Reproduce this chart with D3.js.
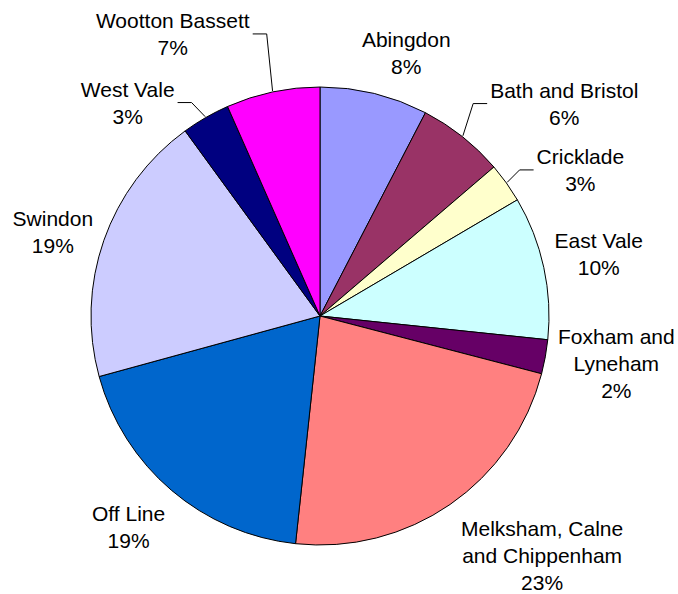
<!DOCTYPE html>
<html>
<head>
<meta charset="utf-8">
<script src="https://cdn.jsdelivr.net/npm/d3@7"></script>
<style>
  body { margin: 0; background: #fff; }
  text { font-family: "Liberation Sans", Arial, sans-serif; font-size: 21px; fill: #000; }
</style>
</head>
<body>
<div id="chart"></div>
<script>
// data (share of total, in %)
const areas = ["Abingdon", "Bath and Bristol", "Cricklade", "East Vale", "Foxham and Lyneham",
  "Melksham, Calne and Chippenham", "Off Line", "Swindon", "West Vale", "Wootton Bassett"];
const shares = [7.6, 6.1, 2.8, 10.1, 2.4, 22.6, 19.0, 19.2, 3.4, 6.6];
const colours = ["#9999ff", "#993366", "#ffffcc", "#ccffff", "#660066",
  "#ff8080", "#0066cc", "#ccccff", "#000080", "#ff00ff"];
// how the category name wraps in the label
const labelLines = [["Abingdon"], ["Bath and Bristol"], ["Cricklade"], ["East Vale"],
  ["Foxham and", "Lyneham"], ["Melksham, Calne", "and Chippenham"], ["Off Line"],
  ["Swindon"], ["West Vale"], ["Wootton Bassett"]];

// label placement: offset from the slice's mid point on the rim, and leader flag
const labelNudge = [[32, -47], [102, -39], [74, -19], [55, -19], [71, -13],
  [92, 32], [-43, 31], [-51, -14], [-78, -21], [-100, -64]];
const hasLeader = [false, true, true, false, false, false, false, false, true, true];

const width = 678;
const height = 594;
const cx = 320, cy = 316, radius = 229;
const lineGap = 27;

const svg = d3.select("#chart")
  .append("svg")
  .attr("width", width)
  .attr("height", height);

const g = svg.append("g").attr("transform", `translate(${cx},${cy})`);

const total = d3.sum(shares);
const pie = d3.pie().sort(null).value((d) => d.value);
const arcs = pie(areas.map((name, i) => ({ name, value: shares[i], i })));

const arc = d3.arc().innerRadius(0).outerRadius(radius);

g.selectAll("path.slice")
  .data(arcs)
  .join("path")
  .attr("class", "slice")
  .attr("d", arc)
  .attr("fill", (d) => colours[d.data.i])
  .attr("stroke", "#000")
  .attr("stroke-width", 1)
  .attr("stroke-linejoin", "round");

// point on the rim in the middle of a slice
const rim = (d, r) => {
  const a = (d.startAngle + d.endAngle) / 2;
  return [r * Math.sin(a), -r * Math.cos(a)];
};

const labels = g.selectAll("g.label")
  .data(arcs)
  .join("g")
  .attr("class", "label");

labels.each(function (d) {
  const i = d.data.i;
  const [px, py] = rim(d, radius);
  const x = px + labelNudge[i][0];
  const y = py + labelNudge[i][1];
  const pct = Math.round((d.value / total) * 100) + "%";
  const lines = labelLines[i].concat([pct]);

  const t = d3.select(this)
    .append("text")
    .attr("text-anchor", "middle");
  t.selectAll("tspan")
    .data(lines)
    .join("tspan")
    .attr("x", x)
    .attr("y", (_, k) => y + k * lineGap)
    .text((s) => s);

  if (hasLeader[i]) {
    const w = t.node().getBBox().width;
    const side = px > 0 ? -1 : 1; // label sits right of the rim point -> line leaves its left edge
    const edge = x + side * (w / 2 + 3);
    const ly = y + 6;
    d3.select(this)
      .insert("polyline", "text")
      .attr("points", [[edge, ly], [edge + side * 14, ly], rim(d, radius + 1)].map((p) => p.join(",")).join(" "))
      .attr("fill", "none")
      .attr("stroke", "#000")
      .attr("stroke-width", 1);
  }
});
</script>
</body>
</html>
